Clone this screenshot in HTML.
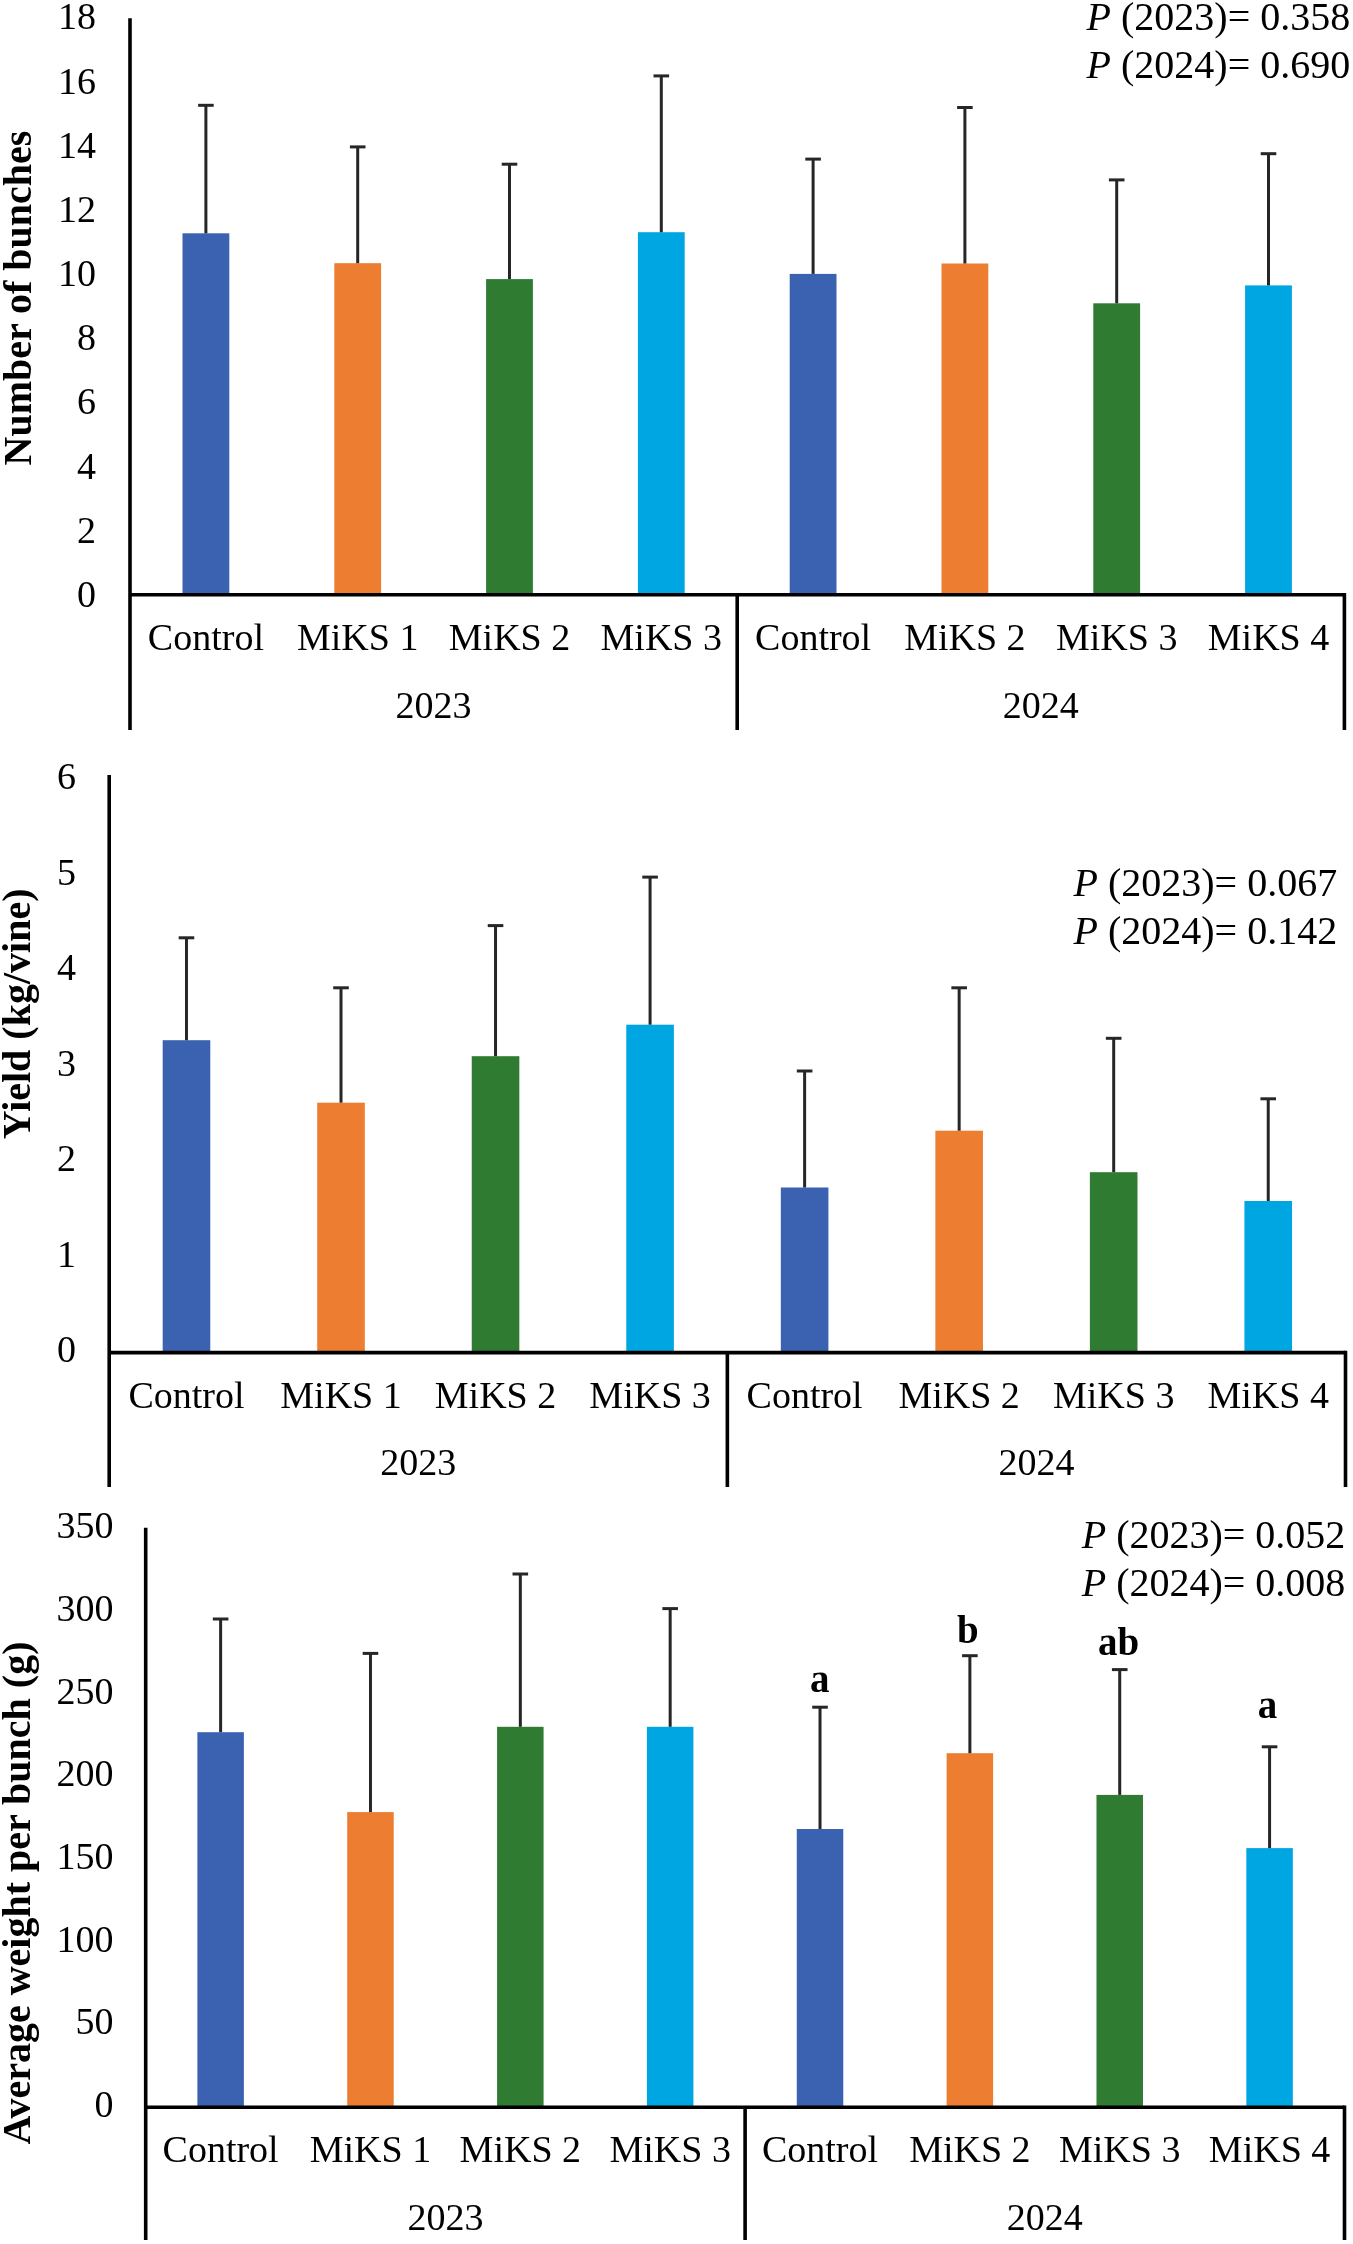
<!DOCTYPE html><html><head><meta charset="utf-8"><style>html,body{margin:0;padding:0;background:#fff;overflow:hidden;}svg{display:block;will-change:transform;}</style></head><body>
<svg width="1353" height="2244" viewBox="0 0 1353 2244" font-family="'Liberation Serif', serif">
<rect x="0" y="0" width="1353" height="2244" fill="#fff"/>
<rect x="182.5" y="233.3" width="46.8" height="361.4" fill="#3A62B0"/>
<line x1="205.9" y1="233.3" x2="205.9" y2="105.3" stroke="#262626" stroke-width="3"/>
<line x1="198.1" y1="105.3" x2="213.7" y2="105.3" stroke="#262626" stroke-width="3"/>
<rect x="334.3" y="263.2" width="46.8" height="331.5" fill="#ED7D31"/>
<line x1="357.7" y1="263.2" x2="357.7" y2="146.9" stroke="#262626" stroke-width="3"/>
<line x1="349.9" y1="146.9" x2="365.5" y2="146.9" stroke="#262626" stroke-width="3"/>
<rect x="486.1" y="279.1" width="46.8" height="315.6" fill="#2E7B31"/>
<line x1="509.5" y1="279.1" x2="509.5" y2="164.2" stroke="#262626" stroke-width="3"/>
<line x1="501.7" y1="164.2" x2="517.3" y2="164.2" stroke="#262626" stroke-width="3"/>
<rect x="637.9" y="232.2" width="46.8" height="362.5" fill="#00A6E2"/>
<line x1="661.3" y1="232.2" x2="661.3" y2="75.9" stroke="#262626" stroke-width="3"/>
<line x1="653.5" y1="75.9" x2="669.1" y2="75.9" stroke="#262626" stroke-width="3"/>
<rect x="789.7" y="273.9" width="46.8" height="320.8" fill="#3A62B0"/>
<line x1="813.1" y1="273.9" x2="813.1" y2="159.1" stroke="#262626" stroke-width="3"/>
<line x1="805.3" y1="159.1" x2="820.9" y2="159.1" stroke="#262626" stroke-width="3"/>
<rect x="941.5" y="263.5" width="46.8" height="331.2" fill="#ED7D31"/>
<line x1="964.9" y1="263.5" x2="964.9" y2="107.5" stroke="#262626" stroke-width="3"/>
<line x1="957.1" y1="107.5" x2="972.7" y2="107.5" stroke="#262626" stroke-width="3"/>
<rect x="1093.3" y="303.3" width="46.8" height="291.4" fill="#2E7B31"/>
<line x1="1116.7" y1="303.3" x2="1116.7" y2="179.9" stroke="#262626" stroke-width="3"/>
<line x1="1108.9" y1="179.9" x2="1124.5" y2="179.9" stroke="#262626" stroke-width="3"/>
<rect x="1245.1" y="285.4" width="46.8" height="309.3" fill="#00A6E2"/>
<line x1="1268.5" y1="285.4" x2="1268.5" y2="153.7" stroke="#262626" stroke-width="3"/>
<line x1="1260.7" y1="153.7" x2="1276.3" y2="153.7" stroke="#262626" stroke-width="3"/>
<line x1="130" y1="18.3" x2="130" y2="730" stroke="#000" stroke-width="3.6"/>
<line x1="130" y1="594.7" x2="1344.4" y2="594.7" stroke="#000" stroke-width="3.6"/>
<line x1="737.2" y1="594.7" x2="737.2" y2="730" stroke="#000" stroke-width="3.6"/>
<line x1="1344.4" y1="592.9" x2="1344.4" y2="730" stroke="#000" stroke-width="3.6"/>
<text x="96" y="606.9" font-size="38" text-anchor="end">0</text>
<text x="96" y="542.73" font-size="38" text-anchor="end">2</text>
<text x="96" y="478.57" font-size="38" text-anchor="end">4</text>
<text x="96" y="414.4" font-size="38" text-anchor="end">6</text>
<text x="96" y="350.23" font-size="38" text-anchor="end">8</text>
<text x="96" y="286.07" font-size="38" text-anchor="end">10</text>
<text x="96" y="221.9" font-size="38" text-anchor="end">12</text>
<text x="96" y="157.73" font-size="38" text-anchor="end">14</text>
<text x="96" y="93.57" font-size="38" text-anchor="end">16</text>
<text x="96" y="29.4" font-size="38" text-anchor="end">18</text>
<text x="205.9" y="650" font-size="38" text-anchor="middle">Control</text>
<text x="357.7" y="650" font-size="38" text-anchor="middle">MiKS 1</text>
<text x="509.5" y="650" font-size="38" text-anchor="middle">MiKS 2</text>
<text x="661.3" y="650" font-size="38" text-anchor="middle">MiKS 3</text>
<text x="813.1" y="650" font-size="38" text-anchor="middle">Control</text>
<text x="964.9" y="650" font-size="38" text-anchor="middle">MiKS 2</text>
<text x="1116.7" y="650" font-size="38" text-anchor="middle">MiKS 3</text>
<text x="1268.5" y="650" font-size="38" text-anchor="middle">MiKS 4</text>
<text x="433.6" y="718" font-size="38" text-anchor="middle">2023</text>
<text x="1040.8" y="718" font-size="38" text-anchor="middle">2024</text>
<text transform="translate(31,298) rotate(-90)" font-size="40" font-weight="bold" text-anchor="middle">Number of bunches</text>
<text x="1086.6" y="29.5" font-size="40"><tspan font-style="italic">P</tspan> (2023)= 0.358</text>
<text x="1086.6" y="77.6" font-size="40"><tspan font-style="italic">P</tspan> (2024)= 0.690</text>
<rect x="162.67" y="1040.2" width="47.6" height="312.4" fill="#3A62B0"/>
<line x1="186.47" y1="1040.2" x2="186.47" y2="937.8" stroke="#262626" stroke-width="3"/>
<line x1="178.67" y1="937.8" x2="194.27" y2="937.8" stroke="#262626" stroke-width="3"/>
<rect x="317.21" y="1102.7" width="47.6" height="249.9" fill="#ED7D31"/>
<line x1="341.01" y1="1102.7" x2="341.01" y2="987.8" stroke="#262626" stroke-width="3"/>
<line x1="333.21" y1="987.8" x2="348.81" y2="987.8" stroke="#262626" stroke-width="3"/>
<rect x="471.74" y="1056.2" width="47.6" height="296.4" fill="#2E7B31"/>
<line x1="495.54" y1="1056.2" x2="495.54" y2="925.6" stroke="#262626" stroke-width="3"/>
<line x1="487.74" y1="925.6" x2="503.34" y2="925.6" stroke="#262626" stroke-width="3"/>
<rect x="626.28" y="1024.7" width="47.6" height="327.9" fill="#00A6E2"/>
<line x1="650.08" y1="1024.7" x2="650.08" y2="877.1" stroke="#262626" stroke-width="3"/>
<line x1="642.28" y1="877.1" x2="657.88" y2="877.1" stroke="#262626" stroke-width="3"/>
<rect x="780.82" y="1187.5" width="47.6" height="165.1" fill="#3A62B0"/>
<line x1="804.62" y1="1187.5" x2="804.62" y2="1071" stroke="#262626" stroke-width="3"/>
<line x1="796.82" y1="1071" x2="812.42" y2="1071" stroke="#262626" stroke-width="3"/>
<rect x="935.36" y="1130.7" width="47.6" height="221.9" fill="#ED7D31"/>
<line x1="959.16" y1="1130.7" x2="959.16" y2="987.8" stroke="#262626" stroke-width="3"/>
<line x1="951.36" y1="987.8" x2="966.96" y2="987.8" stroke="#262626" stroke-width="3"/>
<rect x="1089.89" y="1172.2" width="47.6" height="180.4" fill="#2E7B31"/>
<line x1="1113.69" y1="1172.2" x2="1113.69" y2="1038.3" stroke="#262626" stroke-width="3"/>
<line x1="1105.89" y1="1038.3" x2="1121.49" y2="1038.3" stroke="#262626" stroke-width="3"/>
<rect x="1244.43" y="1201" width="47.6" height="151.6" fill="#00A6E2"/>
<line x1="1268.23" y1="1201" x2="1268.23" y2="1098.8" stroke="#262626" stroke-width="3"/>
<line x1="1260.43" y1="1098.8" x2="1276.03" y2="1098.8" stroke="#262626" stroke-width="3"/>
<line x1="109.2" y1="774.9" x2="109.2" y2="1487" stroke="#000" stroke-width="3.6"/>
<line x1="109.2" y1="1352.6" x2="1345.5" y2="1352.6" stroke="#000" stroke-width="3.6"/>
<line x1="727.35" y1="1352.6" x2="727.35" y2="1487" stroke="#000" stroke-width="3.6"/>
<line x1="1345.5" y1="1350.8" x2="1345.5" y2="1487" stroke="#000" stroke-width="3.6"/>
<text x="76" y="1362.4" font-size="38" text-anchor="end">0</text>
<text x="76" y="1266.83" font-size="38" text-anchor="end">1</text>
<text x="76" y="1171.27" font-size="38" text-anchor="end">2</text>
<text x="76" y="1075.7" font-size="38" text-anchor="end">3</text>
<text x="76" y="980.13" font-size="38" text-anchor="end">4</text>
<text x="76" y="884.57" font-size="38" text-anchor="end">5</text>
<text x="76" y="789" font-size="38" text-anchor="end">6</text>
<text x="186.47" y="1408.3" font-size="38" text-anchor="middle">Control</text>
<text x="341.01" y="1408.3" font-size="38" text-anchor="middle">MiKS 1</text>
<text x="495.54" y="1408.3" font-size="38" text-anchor="middle">MiKS 2</text>
<text x="650.08" y="1408.3" font-size="38" text-anchor="middle">MiKS 3</text>
<text x="804.62" y="1408.3" font-size="38" text-anchor="middle">Control</text>
<text x="959.16" y="1408.3" font-size="38" text-anchor="middle">MiKS 2</text>
<text x="1113.69" y="1408.3" font-size="38" text-anchor="middle">MiKS 3</text>
<text x="1268.23" y="1408.3" font-size="38" text-anchor="middle">MiKS 4</text>
<text x="418.28" y="1474.8" font-size="38" text-anchor="middle">2023</text>
<text x="1036.42" y="1474.8" font-size="38" text-anchor="middle">2024</text>
<text transform="translate(29.6,1013.9) rotate(-90)" font-size="40" font-weight="bold" text-anchor="middle">Yield (kg/vine)</text>
<text x="1073.5" y="896.2" font-size="40"><tspan font-style="italic">P</tspan> (2023)= 0.067</text>
<text x="1073.5" y="944.3" font-size="40"><tspan font-style="italic">P</tspan> (2024)= 0.142</text>
<rect x="197.38" y="1732.2" width="46.5" height="375.1" fill="#3A62B0"/>
<line x1="220.62" y1="1732.2" x2="220.62" y2="1619" stroke="#262626" stroke-width="3"/>
<line x1="212.82" y1="1619" x2="228.43" y2="1619" stroke="#262626" stroke-width="3"/>
<rect x="347.22" y="1812.1" width="46.5" height="295.2" fill="#ED7D31"/>
<line x1="370.47" y1="1812.1" x2="370.47" y2="1653.4" stroke="#262626" stroke-width="3"/>
<line x1="362.67" y1="1653.4" x2="378.27" y2="1653.4" stroke="#262626" stroke-width="3"/>
<rect x="497.08" y="1726.8" width="46.5" height="380.5" fill="#2E7B31"/>
<line x1="520.33" y1="1726.8" x2="520.33" y2="1574" stroke="#262626" stroke-width="3"/>
<line x1="512.53" y1="1574" x2="528.12" y2="1574" stroke="#262626" stroke-width="3"/>
<rect x="646.92" y="1726.8" width="46.5" height="380.5" fill="#00A6E2"/>
<line x1="670.17" y1="1726.8" x2="670.17" y2="1608.6" stroke="#262626" stroke-width="3"/>
<line x1="662.38" y1="1608.6" x2="677.97" y2="1608.6" stroke="#262626" stroke-width="3"/>
<rect x="796.77" y="1829" width="46.5" height="278.3" fill="#3A62B0"/>
<line x1="820.02" y1="1829" x2="820.02" y2="1707.2" stroke="#262626" stroke-width="3"/>
<line x1="812.22" y1="1707.2" x2="827.82" y2="1707.2" stroke="#262626" stroke-width="3"/>
<text x="819.8" y="1691.6" font-size="39" font-weight="bold" text-anchor="middle">a</text>
<rect x="946.62" y="1753.2" width="46.5" height="354.1" fill="#ED7D31"/>
<line x1="969.88" y1="1753.2" x2="969.88" y2="1655.7" stroke="#262626" stroke-width="3"/>
<line x1="962.08" y1="1655.7" x2="977.67" y2="1655.7" stroke="#262626" stroke-width="3"/>
<text x="967.8" y="1643" font-size="39" font-weight="bold" text-anchor="middle">b</text>
<rect x="1096.47" y="1794.9" width="46.5" height="312.4" fill="#2E7B31"/>
<line x1="1119.72" y1="1794.9" x2="1119.72" y2="1669.6" stroke="#262626" stroke-width="3"/>
<line x1="1111.92" y1="1669.6" x2="1127.52" y2="1669.6" stroke="#262626" stroke-width="3"/>
<text x="1118.6" y="1655.3" font-size="39" font-weight="bold" text-anchor="middle">ab</text>
<rect x="1246.33" y="1848.1" width="46.5" height="259.2" fill="#00A6E2"/>
<line x1="1269.58" y1="1848.1" x2="1269.58" y2="1746.8" stroke="#262626" stroke-width="3"/>
<line x1="1261.78" y1="1746.8" x2="1277.38" y2="1746.8" stroke="#262626" stroke-width="3"/>
<text x="1267.5" y="1717.8" font-size="39" font-weight="bold" text-anchor="middle">a</text>
<line x1="145.7" y1="1527.8" x2="145.7" y2="2240" stroke="#000" stroke-width="3.6"/>
<line x1="145.7" y1="2107.3" x2="1344.5" y2="2107.3" stroke="#000" stroke-width="3.6"/>
<line x1="745.1" y1="2107.3" x2="745.1" y2="2240" stroke="#000" stroke-width="3.6"/>
<line x1="1344.5" y1="2105.5" x2="1344.5" y2="2240" stroke="#000" stroke-width="3.6"/>
<text x="113.5" y="2116.9" font-size="38" text-anchor="end">0</text>
<text x="113.5" y="2034.26" font-size="38" text-anchor="end">50</text>
<text x="113.5" y="1951.61" font-size="38" text-anchor="end">100</text>
<text x="113.5" y="1868.97" font-size="38" text-anchor="end">150</text>
<text x="113.5" y="1786.33" font-size="38" text-anchor="end">200</text>
<text x="113.5" y="1703.69" font-size="38" text-anchor="end">250</text>
<text x="113.5" y="1621.04" font-size="38" text-anchor="end">300</text>
<text x="113.5" y="1538.4" font-size="38" text-anchor="end">350</text>
<text x="220.62" y="2161.9" font-size="38" text-anchor="middle">Control</text>
<text x="370.47" y="2161.9" font-size="38" text-anchor="middle">MiKS 1</text>
<text x="520.33" y="2161.9" font-size="38" text-anchor="middle">MiKS 2</text>
<text x="670.17" y="2161.9" font-size="38" text-anchor="middle">MiKS 3</text>
<text x="820.02" y="2161.9" font-size="38" text-anchor="middle">Control</text>
<text x="969.88" y="2161.9" font-size="38" text-anchor="middle">MiKS 2</text>
<text x="1119.72" y="2161.9" font-size="38" text-anchor="middle">MiKS 3</text>
<text x="1269.58" y="2161.9" font-size="38" text-anchor="middle">MiKS 4</text>
<text x="445.4" y="2229.5" font-size="38" text-anchor="middle">2023</text>
<text x="1044.8" y="2229.5" font-size="38" text-anchor="middle">2024</text>
<text transform="translate(29.6,1893) rotate(-90)" font-size="40" font-weight="bold" text-anchor="middle">Average weight per bunch (g)</text>
<text x="1081.7" y="1547.6" font-size="40"><tspan font-style="italic">P</tspan> (2023)= 0.052</text>
<text x="1081.7" y="1595.9" font-size="40"><tspan font-style="italic">P</tspan> (2024)= 0.008</text>
</svg></body></html>
